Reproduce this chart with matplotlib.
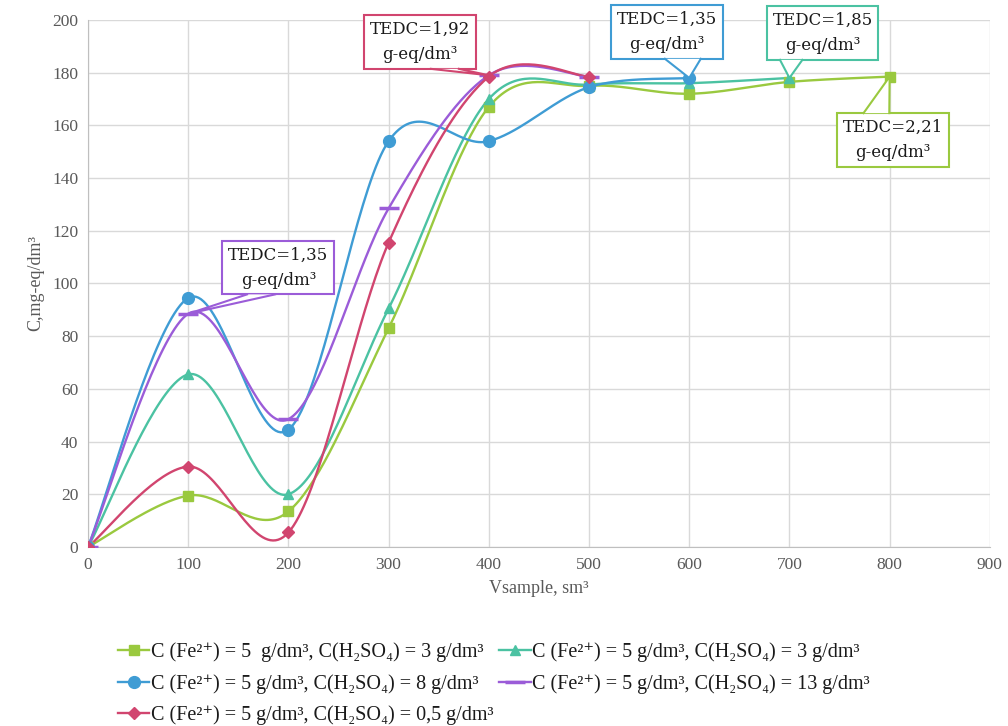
import numpy as np
import matplotlib
matplotlib.use("Agg")
import matplotlib.pyplot as plt
from matplotlib.lines import Line2D

# ---- data ----
x_green = [0, 100, 200, 300, 400, 500, 600, 700, 800]
y_green = [0, 19.5, 13.5, 83, 167, 175, 172, 176.5, 178.5]
x_teal = [0, 100, 200, 300, 400, 500, 600, 700]
y_teal = [0, 65.5, 20, 90.5, 170, 175.5, 176, 178]
x_blue = [0, 100, 200, 300, 400, 500, 600]
y_blue = [0, 94.5, 44.5, 154, 154, 174.5, 178]
x_purple = [0, 100, 200, 300, 400, 500]
y_purple = [0, 88.5, 48.5, 128.5, 179, 178.5]
x_red = [0, 100, 200, 300, 400, 500]
y_red = [0, 30.5, 5.5, 115.5, 178.5, 178.5]

labels = [
    "C (Fe²⁺) = 5  g/dm³, C(H₂SO₄) = 3 g/dm³",
    "C (Fe²⁺) = 5 g/dm³, C(H₂SO₄) = 3 g/dm³",
    "C (Fe²⁺) = 5 g/dm³, C(H₂SO₄) = 8 g/dm³",
    "C (Fe²⁺) = 5 g/dm³, C(H₂SO₄) = 13 g/dm³",
    "C (Fe²⁺) = 5 g/dm³, C(H₂SO₄) = 0,5 g/dm³",
]
callout_texts = ["TEDC=2,21\ng-eq/dm³", "TEDC=1,85\ng-eq/dm³", "TEDC=1,35\ng-eq/dm³",
                 "TEDC=1,35\ng-eq/dm³", "TEDC=1,92\ng-eq/dm³"]

c_green = "#9AC93F"
c_teal = "#4BC2A2"
c_blue = "#3F9CD4"
c_purple = "#9B5CD8"
c_red = "#D1456F"

serif = ["Liberation Serif", "DejaVu Serif"]


def smooth(xs, ys, n=40):
    """Excel-like smoothed line (Catmull-Rom Bezier) for drawing only."""
    P = np.column_stack([xs, ys]).astype(float)
    out = []
    for i in range(len(P) - 1):
        p0 = P[i - 1] if i > 0 else P[i]
        p1 = P[i]
        p2 = P[i + 1]
        p3 = P[i + 2] if i + 2 < len(P) else P[i + 1]
        c1 = p1 + (p2 - p0) / 6.0
        c2 = p2 - (p3 - p1) / 6.0
        t = np.linspace(0, 1, n)[:, None]
        seg = ((1 - t) ** 3) * p1 + 3 * ((1 - t) ** 2) * t * c1 + 3 * (1 - t) * t ** 2 * c2 + t ** 3 * p2
        out.append(seg if i == 0 else seg[1:])
    s = np.vstack(out)
    return s[:, 0], s[:, 1]


fig = plt.figure(figsize=(10.08, 7.26), dpi=100)
ax = fig.add_axes([0.0873, 0.2466, 0.8947, 0.7259])

series = [
    (x_green, y_green, c_green, "s", 7, 1),
    (x_teal, y_teal, c_teal, "^", 7.5, 1),
    (x_blue, y_blue, c_blue, "o", 8.5, 1),
    (x_purple, y_purple, c_purple, "_", 14, 2.5),
    (x_red, y_red, c_red, "D", 6.5, 1),
]
handles = []
for (xs, ys, c, m, ms, mew), lab in zip(series, labels):
    sx, sy = smooth(xs, ys)
    ax.plot(sx, sy, color=c, lw=1.7, zorder=3, solid_capstyle="round")
    ax.plot(xs, ys, ls="none", marker=m, ms=ms, color=c, mec=c, mew=mew, zorder=4)
    handles.append(Line2D([], [], color=c, lw=1.7, marker=m, ms=ms, mew=mew, mec=c))

ax.set_xlim(0, 900)
ax.set_ylim(0, 200)
ax.set_xticks(np.arange(0, 901, 100))
ax.set_yticks(np.arange(0, 201, 20))
ax.grid(True, color="#D9D9D9", lw=1)
ax.set_axisbelow(True)
for s in ["top", "right"]:
    ax.spines[s].set_visible(False)
for s in ["left", "bottom"]:
    ax.spines[s].set_color("#BFBFBF")
ax.tick_params(length=0, labelsize=12.5, colors="#595959", pad=7)
for lab in ax.get_xticklabels() + ax.get_yticklabels():
    lab.set_family(serif)
ax.set_xlabel("Vsample, sm³", family=serif, fontsize=13, color="#595959", labelpad=5)
ax.set_ylabel("C,mg-eq/dm³", family=serif, fontsize=13, color="#595959", labelpad=6)

# callouts: target point, text centre, colour, text, edge of pointer, base fractions
callouts = [
    (800, 178.5, 803, 154.5, c_green, callout_texts[0], "top", (0.24, 0.47)),
    (700, 178, 733, 195, c_teal, callout_texts[1], "bottom", (0.12, 0.32)),
    (600, 178, 578, 195.4, c_blue, callout_texts[2], "bottom", (0.48, 0.8)),
    (100, 88.5, 190, 106, c_purple, callout_texts[3], "bottom", (0.22, 0.47)),
    (400, 179, 331, 191.6, c_red, callout_texts[4], "bottom", (0.6, 0.85)),
]
texts = []
for px, py, tx, ty, c, txt, edge, fr in callouts:
    t = ax.text(tx, ty, txt, ha="center", va="center",
                fontsize=12, family=["DejaVu Serif"], color="#1a1a1a", linespacing=1.6,
                bbox=dict(boxstyle="square,pad=0.35", fc="white", ec=c, lw=1.5),
                zorder=6, clip_on=False)
    texts.append(t)

fig.canvas.draw()
inv = ax.transData.inverted()
for t, (px, py, tx, ty, c, txt, edge, fr) in zip(texts, callouts):
    bb = t.get_bbox_patch().get_window_extent()
    (x0, y0), (x1, y1) = inv.transform([[bb.x0, bb.y0], [bb.x1, bb.y1]])
    ye = y1 if edge == "top" else y0
    bxa = x0 + fr[0] * (x1 - x0)
    bxb = x0 + fr[1] * (x1 - x0)
    ax.fill([bxa, px, bxb], [ye, py, ye], facecolor="white", edgecolor="none",
            zorder=7, clip_on=False)
    ax.plot([bxa, px, bxb], [ye, py, ye], color=c, lw=1.5, zorder=7.5,
            clip_on=False, solid_joinstyle="miter")

order = [0, 2, 4, 1, 3]
leg = fig.legend([handles[i] for i in order], [labels[i] for i in order],
                 loc="upper left", bbox_to_anchor=(0.117, 0.115), ncol=2, frameon=False,
                 prop={"family": serif, "size": 14.5}, handlelength=1.55, handletextpad=0.08,
                 columnspacing=0.3, labelspacing=0.58, borderaxespad=0, borderpad=0)
for t in leg.get_texts():
    t.set_color("#1a1a1a")

fig.savefig("out.png", dpi=100)
